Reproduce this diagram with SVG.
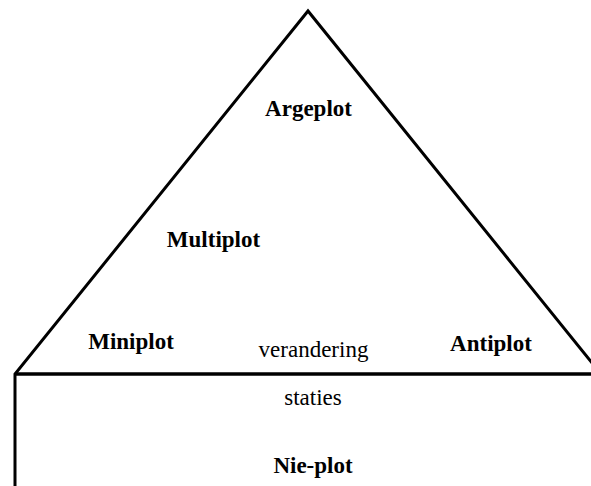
<svg xmlns="http://www.w3.org/2000/svg" width="591" height="486" viewBox="0 0 591 486">
<style>
.ln{fill:none;stroke:#000;stroke-width:3;stroke-linejoin:miter}
.base{stroke-width:3.5}
text{font-family:"Liberation Serif","Times New Roman",serif;font-size:23px;fill:#000;text-anchor:middle}
.b{font-weight:bold}
</style>
<rect width="591" height="486" fill="#fff"/>
<g id="connectors">
<polyline class="ln" points="601,374 308,11 15,374 15,486"/>
<line class="ln base" x1="15" y1="374" x2="591" y2="374"/>
</g>
<g id="argeplot"><text class="b" x="308.5" y="116">Argeplot</text></g>
<g id="multiplot"><text class="b" x="213.5" y="247">Multiplot</text></g>
<g id="miniplot"><text class="b" x="131" y="349">Miniplot</text></g>
<g id="verandering"><text x="313.5" y="357">verandering</text></g>
<g id="antiplot"><text class="b" x="491" y="351">Antiplot</text></g>
<g id="staties"><text x="313" y="405">staties</text></g>
<g id="nieplot"><text class="b" x="313" y="473">Nie-plot</text></g>
</svg>
